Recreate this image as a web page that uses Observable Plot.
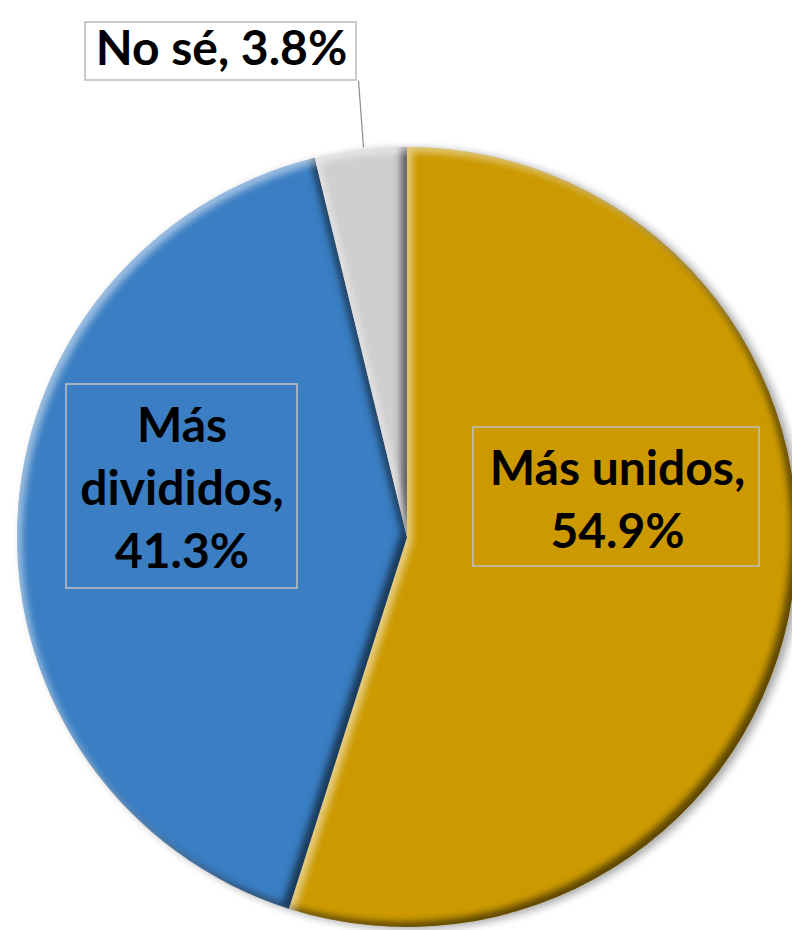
<!DOCTYPE html>
<html><head><meta charset="utf-8">
<script src="https://cdn.jsdelivr.net/npm/d3@7"></script>
<script src="https://cdn.jsdelivr.net/npm/@observablehq/plot@0.6"></script>
<style>html,body{margin:0;padding:0;background:#fff;overflow:hidden}</style>
</head><body><div id="chart"></div>
<script>
// ---- data ----
const categories = ["Más unidos", "Más divididos", "No sé"];
const values = [54.9, 41.3, 3.8];
const labelTexts = ["Más unidos,\n54.9%", "Más\ndivididos,\n41.3%", "No sé, 3.8%"];
const colors = ["#CC9A02", "#3A7EC3", "#CFCFCF"];

// ---- layout (pixels, converted to the unit scale below) ----
const CX = 407, CY = 537, R = 390, W = 792, H = 930;
const X = px => (px - CX) / R;
const Y = py => (CY - py) / R;

const data = categories.map((c, i) => ({category: c, value: values[i]}));
const arcs = d3.pie().sort(null).value(d => d.value)(data);

const boxes = [
  {category: "Más unidos", x1: X(473), x2: X(759), y1: Y(427), y2: Y(566), fill: "none"},
  {category: "Más divididos", x1: X(66), x2: X(297), y1: Y(384), y2: Y(588), fill: "none"},
  {category: "No sé", x1: X(85), x2: X(356), y1: Y(22), y2: Y(80), fill: "white"}
];
const texts = [
  {text: labelTexts[0], x: X(617), y: Y(547)},
  {text: labelTexts[1], x: X(181.5), y: Y(567)},
  {text: labelTexts[2], x: X(221), y: Y(64)}
];
const leader = [{x1: X(358), y1: Y(80), x2: X(363), y2: Y(147)}];

const NS = "http://www.w3.org/2000/svg";
function el(parent, name, attrs) {
  const e = document.createElementNS(NS, name);
  for (const k in attrs) e.setAttribute(k, attrs[k]);
  parent.appendChild(e);
  return e;
}

// pie mark: slices drawn with d3.arc through Plot's x/y scales
function pieMark() {
  return function(index, scales) {
    const sx = scales.x, sy = scales.y;
    const cx = sx(0), cy = sy(0);
    const r = Math.abs(sx(1) - sx(0));
    const g = document.createElementNS(NS, "g");
    g.setAttribute("aria-label", "pie");
    g.setAttribute("transform", `translate(${cx},${cy})`);
    const defs = el(g, "defs", {});
    const bevel = el(defs, "filter", {id: "bevel", x: "-20%", y: "-20%", width: "140%", height: "140%", "color-interpolation-filters": "sRGB"});
    el(bevel, "feOffset", {in: "SourceAlpha", dx: -6, dy: -5, result: "o1"});
    el(bevel, "feGaussianBlur", {in: "o1", stdDeviation: 3.5, result: "b1"});
    el(bevel, "feComposite", {in: "SourceAlpha", in2: "b1", operator: "out", result: "rimDark"});
    el(bevel, "feFlood", {"flood-color": "#000", "flood-opacity": 0.55, result: "cDark"});
    el(bevel, "feComposite", {in: "cDark", in2: "rimDark", operator: "in", result: "dark"});
    el(bevel, "feOffset", {in: "SourceAlpha", dx: 5, dy: 5, result: "o2"});
    el(bevel, "feGaussianBlur", {in: "o2", stdDeviation: 3.5, result: "b2"});
    el(bevel, "feComposite", {in: "SourceAlpha", in2: "b2", operator: "out", result: "rimLight"});
    el(bevel, "feFlood", {"flood-color": "#fff", "flood-opacity": 0.5, result: "cLight"});
    el(bevel, "feComposite", {in: "cLight", in2: "rimLight", operator: "in", result: "light"});
    const merge = el(bevel, "feMerge", {});
    el(merge, "feMergeNode", {in: "SourceGraphic"});
    el(merge, "feMergeNode", {in: "dark"});
    el(merge, "feMergeNode", {in: "light"});
    const shadow = el(defs, "filter", {id: "shadow", x: "-10%", y: "-10%", width: "120%", height: "120%"});
    el(shadow, "feDropShadow", {dx: 5, dy: 2, stdDeviation: 4, "flood-color": "#000", "flood-opacity": 0.35});
    const inner = el(g, "g", {filter: "url(#shadow)"});
    const arcGen = d3.arc().innerRadius(0).outerRadius(r);
    arcs.forEach(a => {
      el(inner, "path", {d: arcGen(a), fill: colors[categories.indexOf(a.data.category)], filter: "url(#bevel)"});
    });
    return g;
  };
}

const chart = Plot.plot({
  width: W, height: H,
  margin: 0,
  style: {overflow: "hidden", background: "white"},
  x: {domain: [-1, 1], range: [CX - R, CX + R], axis: null},
  y: {domain: [-1, 1], range: [CY + R, CY - R], axis: null},
  marks: [
    pieMark(),
    Plot.link(leader, {x1: "x1", y1: "y1", x2: "x2", y2: "y2", stroke: "#8C8C8C", strokeWidth: 1.2}),
    Plot.rect(boxes, {x1: "x1", x2: "x2", y1: "y1", y2: "y2", fill: d => d.fill, stroke: "#BFBFBF", strokeWidth: 1.6}),
    Plot.text(texts, {x: "x", y: "y", text: "text", lineAnchor: "bottom", lineHeight: 1.31,
      fontSize: 48, fontWeight: "bold", fontFamily: "Lato, 'Open Sans', sans-serif", fill: "black", textAnchor: "middle"})
  ]
});

document.getElementById("chart").appendChild(chart);
</script>
</body></html>
